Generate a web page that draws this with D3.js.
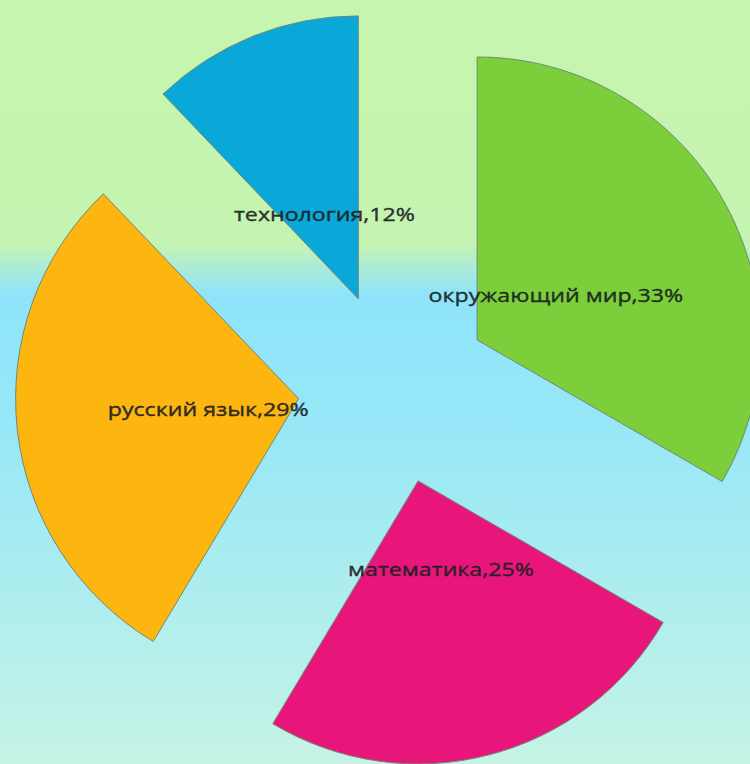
<!DOCTYPE html>
<html>
<head>
<meta charset="utf-8">
<script src="https://cdn.jsdelivr.net/npm/d3@7"></script>
<style>
  html, body { margin: 0; padding: 0; background: #c6f5ae; }
  svg { display: block; }
</style>
</head>
<body>
<script>
const categories = ["окружающий мир", "математика", "русский язык", "технология"];
const values = [33, 25, 29, 12];
const labelTexts = ["окружающий мир,33%", "математика,25%", "русский язык,29%", "технология,12%"];
const colors = ["#7ccf3a", "#e8167a", "#fdb50f", "#0aa8d8"];

const W = 750, H = 764;
const cx = 394, cy = 388, radius = 283, explode = 96, labelR = 187;

const svg = d3.select("body").append("svg").attr("width", W).attr("height", H);

const defs = svg.append("defs");
const grad = defs.append("linearGradient").attr("id", "bg").attr("x1", 0).attr("y1", 0).attr("x2", 0).attr("y2", 1);
[[0, "#c6f5ae"], [0.32, "#c5f4b2"], [0.345, "#b0ecd0"], [0.385, "#8fe4fa"], [0.55, "#96e7f7"], [0.8, "#b0eeee"], [1, "#c6f3e5"]]
  .forEach(([o, c]) => grad.append("stop").attr("offset", o).attr("stop-color", c));
svg.append("rect").attr("width", W).attr("height", H).attr("fill", "url(#bg)");

const data = categories.map((c, i) => ({ cat: c, value: values[i], label: labelTexts[i], color: colors[i] }));
const pie = d3.pie().value(d => d.value).sort(null);
const arc = d3.arc().innerRadius(0).outerRadius(radius);
const arcs = pie(data);

const g = svg.append("g").attr("transform", `translate(${cx},${cy})`);

function dir(a) { return [Math.sin(a), -Math.cos(a)]; }

g.selectAll("path.slice").data(arcs).enter().append("path")
  .attr("class", "slice")
  .attr("d", arc)
  .attr("fill", d => d.data.color)
  .attr("stroke", "#6f8a78")
  .attr("stroke-width", 1)
  .attr("transform", d => {
    const m = (d.startAngle + d.endAngle) / 2;
    const [ux, uy] = dir(m);
    return `translate(${ux * explode},${uy * explode})`;
  });

g.selectAll("text.lbl").data(arcs).enter().append("text")
  .attr("class", "lbl")
  .attr("transform", d => {
    const m = (d.startAngle + d.endAngle) / 2;
    const [ux, uy] = dir(m);
    return `translate(${ux * labelR},${uy * labelR + 7}) scale(1.22,1)`;
  })
  .attr("text-anchor", "middle")
  .attr("font-family", "'Open Sans', 'DejaVu Sans', sans-serif")
  .attr("font-size", 19)
  .attr("fill", "#17201f")
  .attr("stroke", "#17201f")
  .attr("stroke-width", 0.35)
  .attr("fill-opacity", 0.9)
  .text(d => d.data.label);
</script>
</body>
</html>
